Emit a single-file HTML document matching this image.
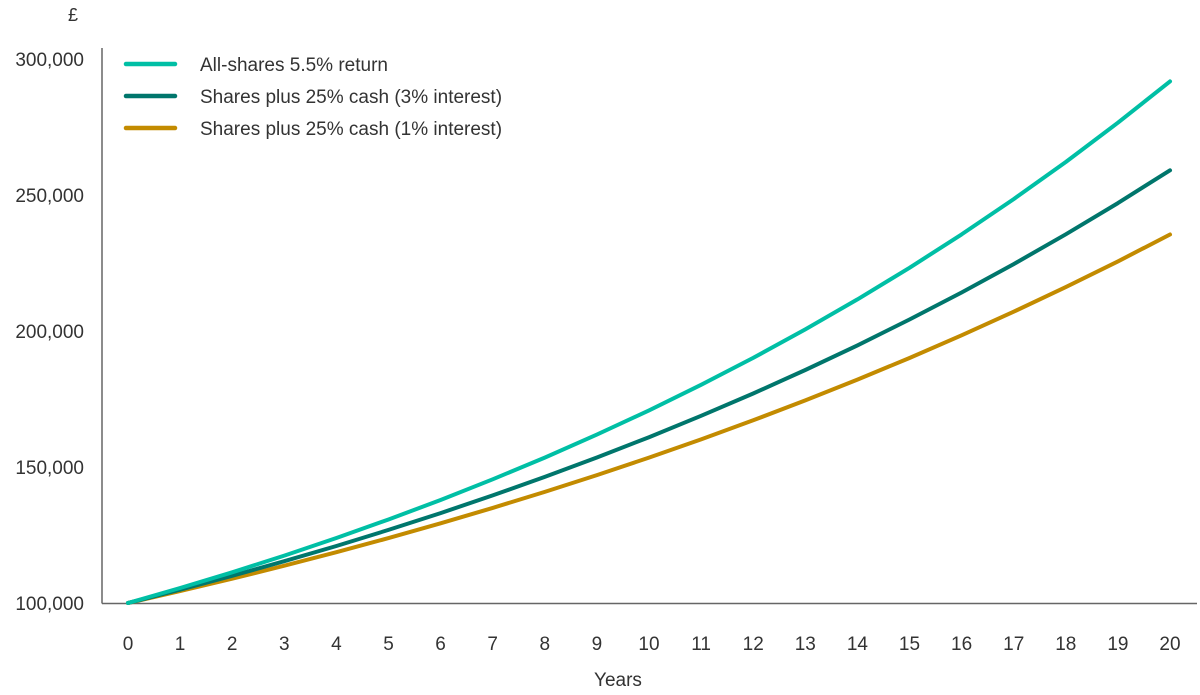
<!DOCTYPE html>
<html><head><meta charset="utf-8"><style>
body{margin:0;background:#fff;}
svg text{font-family:"Liberation Sans",sans-serif;fill:#333;}
</style></head><body>
<svg width="1200" height="690" id="c">
<text x="68" y="21" font-size="18">£</text>
<line x1="102" y1="48" x2="102" y2="603.5" stroke="#666" stroke-width="1.5"/>
<line x1="102" y1="603.5" x2="1197" y2="603.5" stroke="#666" stroke-width="1.5"/>
<text x="618" y="686" font-size="19" text-anchor="middle">Years</text>
<g id="yt"></g><g id="xt"></g><g id="lines"></g>
<g>
<g><line x1="126" y1="64" x2="175" y2="64" stroke="#00bfa5" stroke-width="4.5" stroke-linecap="round"/><text x="200" y="71" font-size="19">All-shares 5.5% return</text></g>
<g><line x1="126" y1="96" x2="175" y2="96" stroke="#00766c" stroke-width="4.5" stroke-linecap="round"/><text x="200" y="103" font-size="19">Shares plus 25% cash (3% interest)</text></g>
<g><line x1="126" y1="128" x2="175" y2="128" stroke="#c38b00" stroke-width="4.5" stroke-linecap="round"/><text x="200" y="135" font-size="19">Shares plus 25% cash (1% interest)</text></g>
</g>
</svg>
<script>
const years=[0,1,2,3,4,5,6,7,8,9,10,11,12,13,14,15,16,17,18,19,20];
const yTicks=[100000,150000,200000,250000,300000];
const allShares=[100000,105500,111303,117424,123882,130696,137884,145468,153469,161909,170814,180209,190121,200577,211609,223248,235526,248480,262147,276565,291776];
const cash3=[100000,104875,109988,115350,120973,126871,133056,139542,146345,153479,160961,168808,177037,185668,194719,204212,214167,224605,235556,247039,259082];
const cash1=[100000,104375,108941,113708,118683,123875,129295,134951,140855,147018,153450,160163,167170,174484,182118,190086,198402,207082,216142,225598,235468];
const NS="http://www.w3.org/2000/svg";
const X=v=>128+(v-0)*(1170-128)/20;
const Y=v=>603-(v-100000)*(603-59)/200000;
const yt=document.getElementById('yt'),xt=document.getElementById('xt'),lg=document.getElementById('lines');
yTicks.forEach(t=>{const e=document.createElementNS(NS,'text');


e.setAttribute('x',84);e.setAttribute('y',Y(t)+7);e.setAttribute('font-size','19');e.setAttribute('text-anchor','end');
e.textContent=t.toLocaleString('en-GB');yt.appendChild(e);});
years.forEach(t=>{const e=document.createElementNS(NS,'text');


e.setAttribute('x',X(t));e.setAttribute('y',650);e.setAttribute('font-size','19');e.setAttribute('text-anchor','middle');
e.textContent=t;xt.appendChild(e);});
[[cash1,'#c38b00','line-cash-1pct'],[cash3,'#00766c','line-cash-3pct'],[allShares,'#00bfa5','line-all-shares']].forEach(([d,c,n])=>{
const p=document.createElementNS(NS,'path');


p.setAttribute('d',d.map((v,i)=>(i?'L':'M')+X(years[i]).toFixed(1)+','+Y(v).toFixed(1)).join(''));
p.setAttribute('fill','none');p.setAttribute('stroke',c);p.setAttribute('stroke-width','4');p.setAttribute('stroke-linecap','round');p.setAttribute('stroke-linejoin','round');
lg.appendChild(p);});
</script>
</body></html>
